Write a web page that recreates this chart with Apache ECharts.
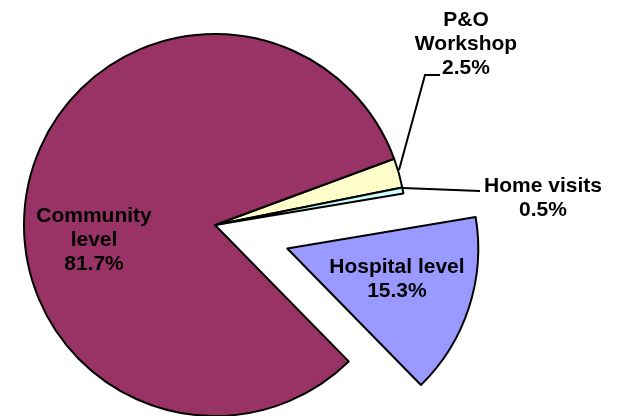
<!DOCTYPE html>
<html>
<head>
<meta charset="utf-8">
<script src="https://cdn.jsdelivr.net/npm/echarts@6/dist/echarts.min.js"></script>
<style>html,body{margin:0;padding:0;background:#fff}#c{width:617px;height:416px}</style>
</head>
<body>
<div id="c"></div>
<script>
// Data (order clockwise from the start angle)
const categories = ['P&O\nWorkshop', 'Home visits', 'Hospital level', 'Community\nlevel'];
const values = [2.5, 0.5, 15.3, 81.7];
const valueLabels = ['2.5%', '0.5%', '15.3%', '81.7%'];

// Styling / layout (not data)
const colors = ['#FFFFCC', '#CCFFFF', '#9999FF', '#993366'];
const labelPos = [[466, 44], [543, 198], null, [94, 240]];
const labelPadding = [0, 0, [0, 0, 12, 32], 0];
const outside = [true, true, false, false];
const linePts = [
  [[399, 170], [425, 75], [440, 75]],
  [[403, 188], [480, 191]],
  null, null
];

const chart = echarts.init(document.getElementById('c'), null, {renderer: 'canvas'});
chart.setOption({
  backgroundColor: '#ffffff',
  animation: false,
  series: [{
    type: 'pie',
    center: [215, 225],
    radius: [0, 191],
    startAngle: 20.3,
    clockwise: true,
    avoidLabelOverlap: false,
    selectedMode: 'single',
    selectedOffset: 76,
    itemStyle: {borderColor: '#000', borderWidth: 2},
    emphasis: {disabled: true},
    label: {
      color: '#000',
      fontFamily: 'Liberation Sans, Arial, sans-serif',
      fontWeight: 'bold',
      fontSize: 21,
      lineHeight: 24,
      align: 'center',
      formatter: p => p.name + '\n' + valueLabels[p.dataIndex]
    },
    labelLine: {lineStyle: {color: '#000', width: 2}},
    labelLayout: function (params) {
      const i = params.dataIndex;
      if (!labelPos[i]) return {};
      const r = {x: labelPos[i][0], y: labelPos[i][1], align: 'center', verticalAlign: 'middle'};
      if (linePts[i]) r.labelLinePoints = linePts[i];
      return r;
    },
    data: categories.map((name, i) => ({
      name: name,
      value: values[i],
      selected: name === 'Hospital level',
      itemStyle: {color: colors[i]},
      label: {position: outside[i] ? 'outside' : 'inside', padding: labelPadding[i]},
      labelLine: {show: outside[i]}
    }))
  }]
});
</script>
</body>
</html>
